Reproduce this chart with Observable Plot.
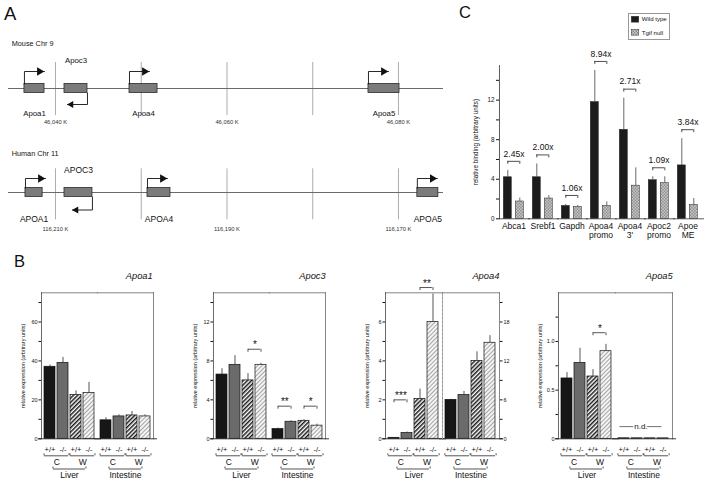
<!DOCTYPE html>
<html>
<head>
<meta charset="utf-8">
<script src="https://cdn.jsdelivr.net/npm/d3@7"></script>
<script src="https://cdn.jsdelivr.net/npm/@observablehq/plot@0.6"></script>
<style>
  body { margin: 0; background: #fff; }
  #fig { position: relative; width: 709px; height: 484px; overflow: hidden; background: #fff;
         font-family: "Liberation Sans", Arial, Helvetica, sans-serif; color: #111; }
  #fig svg { position: absolute; overflow: visible; }
  .t { position: absolute; white-space: nowrap; line-height: 1; color: #111; }
</style>
</head>
<body>
<svg width="0" height="0" style="position:absolute">
  <defs>
    <pattern id="hatchDark" width="3" height="3" patternUnits="userSpaceOnUse" patternTransform="rotate(45)">
      <rect width="3" height="3" fill="#ffffff"/>
      <rect width="1.5" height="3" fill="#1a1a1a"/>
    </pattern>
    <pattern id="hatchLight" width="3" height="3" patternUnits="userSpaceOnUse" patternTransform="rotate(45)">
      <rect width="3" height="3" fill="#f4f4f4"/>
      <rect width="0.9" height="3" fill="#9c9c9c"/>
    </pattern>
    <pattern id="checker" width="3" height="3" patternUnits="userSpaceOnUse">
      <rect width="3" height="3" fill="#d6d6d6"/>
      <rect width="1.5" height="1.5" fill="#808080"/>
      <rect x="1.5" y="1.5" width="1.5" height="1.5" fill="#808080"/>
    </pattern>
  </defs>
</svg>
<div id="fig"></div>
<script>
// ---------------- Panel A data (genomic positions, kb) ----------------
const mouseGenes = ["Apoa1", "Apoc3", "Apoa4", "Apoa5"];
const mouseTss   = [46036.38, 46043.73, 46048.63, 46076.50];
const mouseTes   = [46038.72, 46041.05, 46051.90, 46080.12];
const mouseTicks = [46040, 46050, 46060, 46070, 46080];
const mouseTickLabels = [46040, 46060, 46080];
const mouseDomain = [46034.52, 46085.25];

const humanGenes = ["APOA1", "APOC3", "APOA4", "APOA5"];
const humanTss   = [116213.50, 116205.69, 116199.27, 116167.80];
const humanTes   = [116211.50, 116208.95, 116196.59, 116165.35];
const humanTicks = [116210, 116200, 116190, 116180, 116170];
const humanTickLabels = [116210, 116190, 116170];
const humanDomain = [116215.48, 116164.75];

// ---------------- Panel B data ----------------
const tissues = ["Liver", "Intestine"];
const conditions = ["C+/+", "C-/-", "W+/+", "W-/-"];
const genotypeLabels = ["+/+", "-/-", "+/+", "-/-"];
const diets = ["C", "W"];

const apoa1Mean = [37, 39, 22.5, 23.5, 9.5, 11.5, 12, 11.5];
const apoa1Sem  = [0.9, 2.8, 2.1, 5.5, 1.3, 0.8, 2.0, 0.8];
const apoa1TickMarks = [0, 10, 20, 30, 40, 50, 60, 70];
const apoa1TickLabels = [0, 20, 40, 60];
const apoa1Sig = [];

const apoc3Mean = [6.6, 7.6, 6.0, 7.6, 1.0, 1.75, 1.85, 1.35];
const apoc3Sem  = [0.6, 0.95, 0.7, 0.15, 0.1, 0.1, 0.1, 0.15];
const apoc3TickMarks = [0, 2, 4, 6, 8, 10, 12, 14];
const apoc3TickLabels = [0, 4, 8, 12];
const apoc3Sig = [
  {tissue: "Liver", a: "W+/+", b: "W-/-", y: 9.2, label: "*"},
  {tissue: "Intestine", a: "C+/+", b: "C-/-", y: 3.35, label: "**"},
  {tissue: "Intestine", a: "W+/+", b: "W-/-", y: 3.35, label: "*"}
];

// Liver values on the left axis, intestine values on the right axis (x3)
const apoa4Mean = [0.05, 0.3, 2.05, 6.0, 6.0, 6.75, 12.0, 14.8];
const apoa4Sem  = [0.01, 0.05, 0.5, 1.44, 0.1, 0.55, 1.4, 1.1];
const apoa4TickMarks = [0, 1, 2, 3, 4, 5, 6, 7];
const apoa4TickLabels = [0, 2, 4, 6];
const apoa4Sig = [
  {tissue: "Liver", a: "C+/+", b: "C-/-", y: 2.0, label: "***"},
  {tissue: "Liver", a: "W+/+", b: "W-/-", y: 7.77, label: "**"}
];

const apoa5Mean = [0.62, 0.78, 0.64, 0.90, 0.005, 0.005, 0.005, 0.005];
const apoa5Sem  = [0.06, 0.15, 0.07, 0.07, 0, 0, 0, 0];
const apoa5TickMarks = [0, 0.25, 0.5, 0.75, 1.0, 1.25];
const apoa5TickLabels = [0, 0.5, 1.0];
const apoa5Sig = [{tissue: "Liver", a: "W+/+", b: "W-/-", y: 1.09, label: "*"}];

// ---------------- Panel C data ----------------
const chipGenes  = ["Abca1", "Srebf1", "Gapdh", "Apoa4 promo", "Apoa4 3'", "Apoc2 promo", "Apoe ME"];
const chipLabels = ["Abca1", "Srebf1", "Gapdh", "Apoa4\npromo", "Apoa4\n3'", "Apoc2\npromo", "Apoe\nME"];
const chipGenotypes = ["Wild type", "Tgif null"];
const wtMean   = [4.2, 4.2, 1.3, 11.8, 9.0, 3.9, 5.4];
const wtSem    = [0.7, 1.35, 0.15, 3.2, 3.2, 0.35, 2.7];
const nullMean = [1.75, 2.05, 1.2, 1.3, 3.35, 3.6, 1.4];
const nullSem  = [0.35, 0.3, 0.15, 0.4, 1.8, 0.65, 0.65];
const foldLabels = ["2.45x", "2.00x", "1.06x", "8.94x", "2.71x", "1.09x", "3.84x"];
const chipTickMarks = [0, 2, 4, 6, 8, 10, 12, 14];
const chipTickLabels = [0, 4, 8, 12];

// ---------------- helpers ----------------
const FONT = '"Liberation Sans", Arial, Helvetica, sans-serif';
const fig = document.getElementById("fig");
const baseStyle = {fontFamily: FONT, fontSize: "7px", color: "#111", background: "transparent", overflow: "visible"};

function put(node, left, top) {
  node.style.left = left + "px";
  node.style.top = top + "px";
  fig.appendChild(node);
}
function label(text, left, top, size, css = "") {
  const d = document.createElement("div");
  d.className = "t";
  d.textContent = text;
  d.style.cssText += `left:${left}px;top:${top}px;font-size:${size}px;${css}`;
  fig.appendChild(d);
  return d;
}

// ---------------- Panel A ----------------
function chromosome({genes, tss, tes, ticks, tickLabels, domain, top, height, lineY, cfg}) {
  const axisDir = Math.sign(domain[1] - domain[0]);
  const pxPerKb = (443 - 8) / Math.abs(domain[1] - domain[0]);
  const arrowKb = 20 / pxPerKb;
  const g = genes.map((name, i) => {
    const dir = Math.sign(tes[i] - tss[i]);
    const fwd = dir * axisDir > 0;
    const r = fwd ? 3.2 : 2.4;
    const end = tss[i] + dir * arrowKb;
    return {
      name, tss: tss[i], tes: tes[i], dir, fwd, r,
      lo: Math.min(tss[i], tes[i]), hi: Math.max(tss[i], tes[i]),
      mid: (tss[i] + tes[i]) / 2,
      ay: fwd ? cfg.up : -cfg.down,
      end,
      head: end - dir * (1.55 * r) / pxPerKb
    };
  });
  const arrowPts = g.flatMap(d => [
    {name: d.name, x: d.tss, y: d.fwd ? cfg.box : -cfg.box},
    {name: d.name, x: d.tss, y: d.ay},
    {name: d.name, x: d.end, y: d.ay}
  ]);
  const plot = Plot.plot({
    width: 450, height, marginLeft: 8, marginRight: 7, marginTop: 0, marginBottom: 0,
    x: {domain, axis: null},
    y: {domain: [-60, 60], range: [lineY + 60, lineY - 60], axis: null},
    style: baseStyle,
    marks: [
      Plot.ruleX(ticks, {x: d => d, y1: () => -cfg.gridBottom, y2: () => cfg.gridTop, stroke: "#8a8a8a", strokeWidth: 0.7}),
      Plot.ruleY([0], {stroke: "#6a6a6a", strokeWidth: 1}),
      Plot.text(tickLabels, {x: d => d, y: () => -cfg.kb, text: d => d3.format(",")(d) + " K", fontSize: 5.8, fill: "#333"}),
      Plot.rect(g, {x1: "lo", x2: "hi", y1: () => -cfg.box, y2: () => cfg.box, fill: "#7b7b7b", stroke: "#2a2a2a", strokeWidth: 0.8}),
      Plot.line(arrowPts, {x: "x", y: "y", z: "name", stroke: "#111", strokeWidth: 0.9}),
      Plot.dot(g, {x: "head", y: "ay", symbol: "triangle", r: "r", rotate: d => d.fwd ? 90 : -90, fill: "#111", stroke: "none"}),
      Plot.text(g, {x: "mid", y: d => d.fwd ? -cfg.below : cfg.above, text: "name", fontSize: cfg.font})
    ]
  });
  put(plot, 0, top);
}

chromosome({
  genes: mouseGenes, tss: mouseTss, tes: mouseTes, ticks: mouseTicks, tickLabels: mouseTickLabels,
  domain: mouseDomain, top: 30, height: 110, lineY: 58,
  cfg: {up: 17, down: 16, box: 4.5, above: 28, below: 25, gridTop: 26, gridBottom: 27, kb: 34, font: 7.8}
});
chromosome({
  genes: humanGenes, tss: humanTss, tes: humanTes, ticks: humanTicks, tickLabels: humanTickLabels,
  domain: humanDomain, top: 130, height: 110, lineY: 62,
  cfg: {up: 14, down: 17.5, box: 4.5, above: 22, below: 26.3, gridTop: 23.7, gridBottom: 27.3, kb: 36.3, font: 8.5}
});

label("A", 4, 5, 18.5);
label("Mouse Chr 9", 11.7, 39.6, 7.3);
label("Human Chr 11", 11.7, 149.6, 7.3);

// ---------------- Panel B ----------------
const condFill = {"C+/+": "#161616", "C-/-": "#6b6b6b", "W+/+": "url(#hatchDark)", "W-/-": "url(#hatchLight)"};
const genoOf = Object.fromEntries(conditions.map((c, i) => [c, genotypeLabels[i]]));

function bChart(c) {
  const frameW = c.right - c.left;
  const facetW = frameW / tissues.length;
  const PI = 0.12, PO = 0.12;
  const step = facetW / (conditions.length - PI + 2 * PO);
  const bw = step * (1 - PI);
  const ML = 44, MR = 24, top = 250, H = 234;
  const frameTop = 292.3, base = 438.3;
  const rows = [];
  tissues.forEach((t, ti) => conditions.forEach((k, ci) => {
    const i = ti * conditions.length + ci;
    const f = (c.rightFactor && t === "Intestine") ? c.rightFactor : 1;
    rows.push({tissue: t, cond: k, mean: c.means[i] / f, top: (c.means[i] + c.sems[i]) / f, sem: c.sems[i]});
  }));
  const errRows = rows.filter(d => d.sem > 0);
  const dietRows = tissues.flatMap(t => diets.map(d => ({tissue: t, diet: d, a: d + "+/+", b: d + "-/-"})));
  const tissueRows = tissues.map(t => ({tissue: t}));
  const line = {stroke: "#2a2a2a", strokeWidth: 0.8};
  const tickFmt = d => c.labels.includes(d) ? c.fmt(d) : "";
  const marks = [
    Plot.barY(rows, {fx: "tissue", x: "cond", y: "mean", fill: d => condFill[d.cond], stroke: "#111", strokeWidth: 0.7}),
    Plot.ruleX(errRows, {fx: "tissue", x: "cond", y1: "mean", y2: "top", ...line}),
    Plot.ruleY(errRows, {fx: "tissue", x: "cond", y: "top", insetLeft: (bw - 4.5) / 2, insetRight: (bw - 4.5) / 2, ...line}),
    Plot.frame({anchor: "top", stroke: "#666", strokeWidth: 0.8}),
    Plot.frame({anchor: "left", facetAnchor: "left", stroke: "#444", strokeWidth: 0.8}),
    Plot.frame({anchor: "right", facetAnchor: "right", stroke: "#666", strokeWidth: 0.8}),
    Plot.ruleY([0], {insetLeft: -3, insetRight: -4, stroke: "#222", strokeWidth: 0.9}),
    Plot.axisY({ticks: c.ticks, tickFormat: tickFmt, tickSize: 2.5, tickPadding: 1.5, fontSize: 5.5,
      label: "relative expression (arbitrary units)", labelAnchor: "center", labelOffset: 20, labelArrow: "none"}),
    // genotype labels and brackets below the axis
    Plot.text(rows, {fx: "tissue", x: "cond", y: () => 0, dy: 10.7, text: d => genoOf[d.cond], fontSize: 7.5}),
    Plot.ruleY(dietRows, {fx: "tissue", x1: "a", x2: "b", y: () => 0, dy: 17, ...line}),
    Plot.ruleX(dietRows, {fx: "tissue", x: "a", y1: () => 0, y2: () => 0, dx: -bw / 2, dy: 17, insetTop: -2, ...line}),
    Plot.ruleX(dietRows, {fx: "tissue", x: "b", y1: () => 0, y2: () => 0, dx: bw / 2, dy: 17, insetTop: -2, ...line}),
    Plot.text(dietRows, {fx: "tissue", x: "a", dx: step / 2, y: () => 0, dy: 23.3, text: "diet", fontSize: 8.5}),
    Plot.ruleY(tissueRows, {fx: "tissue", x1: () => "C-/-", x2: () => "W+/+", y: () => 0, dy: 30.2, insetLeft: -4, insetRight: -4, ...line}),
    Plot.ruleX(tissueRows, {fx: "tissue", x: () => "C-/-", y1: () => 0, y2: () => 0, dx: -bw / 2 - 4, dy: 30.2, insetTop: -2, ...line}),
    Plot.ruleX(tissueRows, {fx: "tissue", x: () => "W+/+", y1: () => 0, y2: () => 0, dx: bw / 2 + 4, dy: 30.2, insetTop: -2, ...line}),
    Plot.text(tissueRows, {fx: "tissue", frameAnchor: "bottom", dy: 38.8, text: "tissue", fontSize: 8.5}),
    // significance brackets
    Plot.ruleY(c.sig, {fx: "tissue", x1: "a", x2: "b", y: "y", insetLeft: bw / 2, insetRight: bw / 2, ...line}),
    Plot.ruleX(c.sig, {fx: "tissue", x: "a", y1: "y", y2: "y", insetBottom: -3, ...line}),
    Plot.ruleX(c.sig, {fx: "tissue", x: "b", y1: "y", y2: "y", insetBottom: -3, ...line}),
    Plot.text(c.sig, {fx: "tissue", x: "a", dx: step / 2, y: "y", dy: -4, text: "label", fontSize: 10})
  ];
  if (c.rightFactor) {
    marks.push(
      Plot.frame({anchor: "right", facetAnchor: "left", stroke: "#8a8a8a", strokeWidth: 0.9, strokeDasharray: "2.5,1.5"}),
      Plot.axisY({anchor: "right", ticks: c.ticks, tickFormat: d => c.labels.includes(d) ? String(d * c.rightFactor) : "",
        tickSize: 2.5, tickPadding: 1.5, fontSize: 5.5, label: null})
    );
  }
  if (c.ndY != null) {
    const nd = [{tissue: "Intestine"}];
    marks.push(
      Plot.ruleY(nd, {fx: "tissue", y: () => c.ndY, insetLeft: 4.5, insetRight: 10.5, stroke: "#333", strokeWidth: 0.7}),
      Plot.text(nd, {fx: "tissue", y: () => c.ndY, dx: -3, text: () => "n.d.", fontSize: 8, fill: "#111",
        stroke: "white", strokeWidth: 3, paintOrder: "stroke"})
    );
  }
  const plot = Plot.plot({
    width: frameW + ML + MR, height: H,
    marginLeft: ML, marginRight: MR, marginTop: frameTop - top, marginBottom: top + H - base,
    fx: {domain: tissues, padding: 0, axis: null},
    x: {domain: conditions, paddingInner: PI, paddingOuter: PO, axis: null},
    y: {domain: [0, c.yMax]},
    color: {type: "identity"},
    style: baseStyle,
    marks
  });
  put(plot, c.left - ML, top);
  label(c.title, 0, 272.3, 9.3, `left:auto;right:${709 - c.right}px;font-style:italic;`);
}

const fmtInt = d => String(d);
bChart({title: "Apoa1", left: 40.7, right: 152.7, yMax: 75, ticks: apoa1TickMarks, labels: apoa1TickLabels, fmt: fmtInt,
  means: apoa1Mean, sems: apoa1Sem, sig: apoa1Sig});
bChart({title: "Apoc3", left: 213.3, right: 325.7, yMax: 15, ticks: apoc3TickMarks, labels: apoc3TickLabels, fmt: fmtInt,
  means: apoc3Mean, sems: apoc3Sem, sig: apoc3Sig});
bChart({title: "Apoa4", left: 385, right: 499.3, yMax: 7.5, ticks: apoa4TickMarks, labels: apoa4TickLabels, fmt: fmtInt,
  means: apoa4Mean, sems: apoa4Sem, sig: apoa4Sig, rightFactor: 3});
bChart({title: "Apoa5", left: 558.3, right: 672.7, yMax: 1.5, ticks: apoa5TickMarks, labels: apoa5TickLabels,
  fmt: d => d === 0 ? "0" : d.toFixed(1), means: apoa5Mean, sems: apoa5Sem, sig: apoa5Sig, ndY: 0.125});

label("B", 14, 253, 16.5);

// ---------------- Panel C ----------------
(function () {
  const rowsC = chipGenes.flatMap((g, i) => [
    {gene: g, geno: "Wild type", mean: wtMean[i], top: wtMean[i] + wtSem[i]},
    {gene: g, geno: "Tgif null", mean: nullMean[i], top: nullMean[i] + nullSem[i]}
  ]);
  const groups = chipGenes.map((g, i) => ({
    gene: g, fold: foldLabels[i], label: chipLabels[i],
    y: Math.max(wtMean[i] + wtSem[i], nullMean[i] + nullSem[i])
  }));
  const left = 450, top = 0, W = 259, H = 245;
  const x0 = 497.7, x1 = 703, yBase = 218.3, yTop = 65;
  const facetW = (x1 - x0) / chipGenes.length;
  const P = 0.34;
  const step = facetW / (2 - P + 2 * P);
  const bw = step * (1 - P);
  const line = {stroke: "#222", strokeWidth: 0.8};
  const plot = Plot.plot({
    width: W, height: H,
    marginLeft: x0 - left, marginRight: left + W - x1, marginTop: yTop - top, marginBottom: top + H - yBase,
    fx: {domain: chipGenes, padding: 0, axis: null},
    x: {domain: chipGenotypes, padding: P, axis: null},
    y: {domain: [0, 15.5]},
    color: {type: "identity"},
    style: baseStyle,
    marks: [
      Plot.frame({anchor: "left", facetAnchor: "left", stroke: "#333", strokeWidth: 0.8}),
      Plot.ruleY([0], {insetRight: -2, stroke: "#333", strokeWidth: 0.8}),
      Plot.axisY({ticks: chipTickMarks, tickFormat: d => chipTickLabels.includes(d) ? String(d) : "",
        tickSize: 3, tickPadding: 2, fontSize: 6.3,
        label: "relative binding (arbitrary units)", labelAnchor: "center", labelOffset: 26, labelArrow: "none"}),
      Plot.barY(rowsC, {fx: "gene", x: "geno", y: "mean",
        fill: d => d.geno === "Wild type" ? "#1c1c1c" : "url(#checker)", stroke: "#222", strokeWidth: 0.5}),
      Plot.ruleX(rowsC, {fx: "gene", x: "geno", y1: "mean", y2: "top", stroke: "#444", strokeWidth: 0.8}),
      Plot.ruleY(rowsC, {fx: "gene", x: "geno", y: "top", insetLeft: (bw - 4) / 2, insetRight: (bw - 4) / 2, stroke: "#444", strokeWidth: 0.8}),
      Plot.ruleY(groups, {fx: "gene", x1: () => "Wild type", x2: () => "Tgif null", y: "y", dy: -9,
        insetLeft: bw / 2, insetRight: bw / 2, ...line}),
      Plot.ruleX(groups, {fx: "gene", x: () => "Wild type", y1: "y", y2: "y", dy: -9, insetBottom: -3, ...line}),
      Plot.ruleX(groups, {fx: "gene", x: () => "Tgif null", y1: "y", y2: "y", dy: -9, insetBottom: -3, ...line}),
      Plot.text(groups, {fx: "gene", y: "y", dy: -16.5, text: "fold", fontSize: 8.5}),
      Plot.text(groups, {fx: "gene", frameAnchor: "bottom", dy: 4.5, lineAnchor: "top", lineHeight: 1, text: "label", fontSize: 8.5})
    ]
  });
  put(plot, left, top);
})();

label("C", 459, 4, 16.5);

// legend for panel C
(function () {
  const box = document.createElement("div");
  box.style.cssText = "position:absolute;left:628.3px;top:12.7px;width:40px;height:25.6px;border:0.7px solid #999;background:#fff;";
  fig.appendChild(box);
  const fills = ["#1c1c1c", "url(#checker)"];
  chipGenotypes.forEach((g, i) => {
    const y = 15.7 + i * 13.6;
    const s = document.createElementNS("http://www.w3.org/2000/svg", "svg");
    s.setAttribute("width", "8"); s.setAttribute("height", "6.4");
    s.style.left = "630.7px"; s.style.top = y + "px";
    s.innerHTML = `<rect x="0.25" y="0.25" width="7.5" height="5.9" fill="${fills[i]}" stroke="#333" stroke-width="0.5"/>`;
    fig.appendChild(s);
    label(g, 641.7, y + 0.2, 6.1);
  });
})();
</script>
</body>
</html>
